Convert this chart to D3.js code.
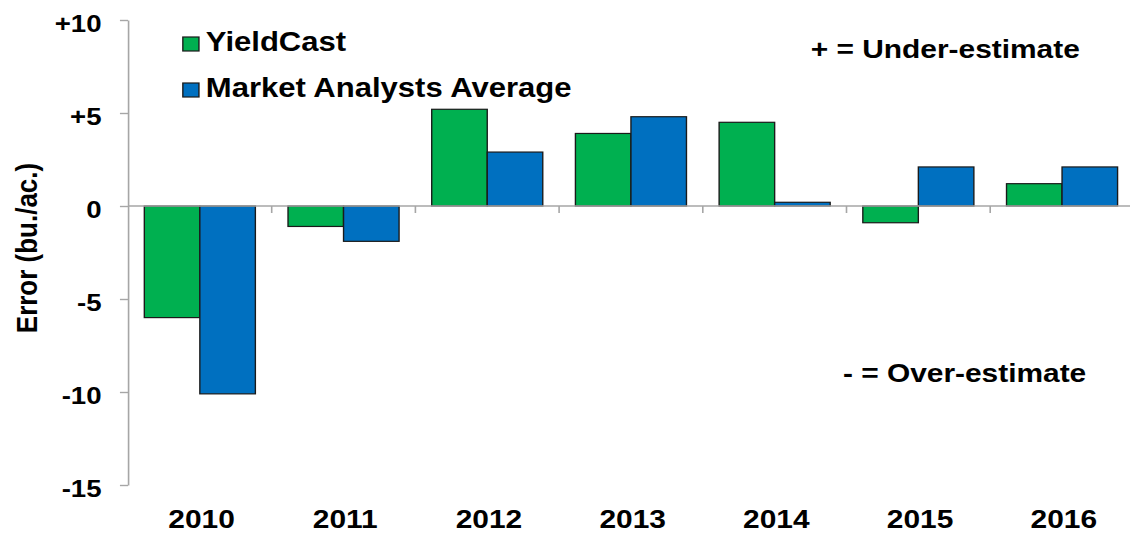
<!DOCTYPE html>
<html>
<head>
<meta charset="utf-8">
<script src="https://cdn.jsdelivr.net/npm/d3@7"></script>
<style>
  html, body { margin: 0; padding: 0; background: #fff; }
  svg { display: block; font-family: "Liberation Sans", Arial, sans-serif; font-weight: bold; }
</style>
</head>
<body>
<script>
// values, bu./ac.
let years = ['2010', '2011', '2012', '2013', '2014', '2015', '2016']
let yieldcast = [-6.0, -1.1, 5.2, 3.9, 4.5, -0.9, 1.2]
let analysts = [-10.1, -1.9, 2.9, 4.8, 0.2, 2.1, 2.1]
let series_names = ['YieldCast', 'Market Analysts Average']
let series_colors = ['#00b050', '#0070c0']
let y_ticks = [10, 5, 0, -5, -10, -15]

let width = 1130, height = 534
// the original picture is stretched sideways, so draw narrow and stretch
let stretch = 1.15
let vw = width / stretch

let margin = {top: 20, left: 111.3, bottom: 49}

let x = d3.scaleBand()
    .domain(years)
    .range([margin.left, 986])
    .padding(0)

let x1 = d3.scaleBand()
    .domain(series_names)
    .range([0, x.bandwidth()])
    .paddingInner(0)
    .paddingOuter(0.294)

let y = d3.scaleLinear()
    .domain([-15, 10])
    .range([height - margin.bottom, margin.top])

let data = years.map((yr, i) => ({
  year: yr,
  values: [
    { key: series_names[0], value: yieldcast[i] },
    { key: series_names[1], value: analysts[i] },
  ]
}))

let color = d3.scaleOrdinal().domain(series_names).range(series_colors)

const svg = d3.select('body').append('svg')
    .attr('width', width)
    .attr('height', height)
    .attr('viewBox', [0, 0, vw, height])
    .attr('preserveAspectRatio', 'none')

// bars
svg.append('g')
  .selectAll('g')
  .data(data)
  .join('g')
    .attr('transform', d => `translate(${x(d.year)},0)`)
  .selectAll('rect')
  .data(d => d.values)
  .join('rect')
    .attr('x', d => x1(d.key))
    .attr('y', d => y(Math.max(0, d.value)))
    .attr('width', x1.bandwidth())
    .attr('height', d => Math.abs(y(d.value) - y(0)))
    .attr('fill', d => color(d.key))
    .attr('stroke', '#1a1a1a')
    .attr('stroke-width', 1.2)

// zero line + ticks between the years
let axis_col = '#a6a6a6'
svg.append('line')
    .attr('x1', margin.left).attr('x2', vw)
    .attr('y1', y(0)).attr('y2', y(0))
    .attr('stroke', axis_col)
    .attr('stroke-width', 1.4)

svg.append('g')
  .selectAll('line')
  .data(years.slice(1))
  .join('line')
    .attr('x1', d => x(d)).attr('x2', d => x(d))
    .attr('y1', y(0)).attr('y2', y(0) + 7)
    .attr('stroke', axis_col)
    .attr('stroke-width', 1.4)

// year labels along the bottom
svg.append('g')
  .selectAll('text')
  .data(years)
  .join('text')
    .attr('x', d => x(d) + x.bandwidth() / 2 + 1.5)
    .attr('y', 528)
    .attr('text-anchor', 'middle')
    .style('font-size', '26px')
    .text(d => d)

// y axis
let yAxis = g => g
    .attr('transform', `translate(${margin.left},0)`)
    .call(d3.axisLeft(y)
      .tickValues(y_ticks)
      .tickFormat(d => d > 0 ? '+' + d : String(d))
      .tickSize(7)
      .tickSizeOuter(0)
      .tickPadding(16))
    .call(g => g.selectAll('.domain, line').attr('stroke', axis_col).attr('stroke-width', 1.4))
    .call(g => g.selectAll('text')
      .attr('fill', '#000')
      .attr('dy', '0.46em')
      .style('font-size', '24px')
      .style('font-family', '"Liberation Sans", Arial, sans-serif')
      .style('font-weight', 'bold'))

svg.append('g').call(yAxis)

svg.append('text')
    .text('Error (bu./ac.)')
    .attr('text-anchor', 'middle')
    .attr('transform', `translate(32.6,248) rotate(-90)`)
    .style('font-size', '26px')

// legend
let legend = svg.append('g')
  .selectAll('g')
  .data(series_names)
  .join('g')
    .attr('transform', (d, i) => `translate(159,${37 + i * 46})`)

legend.append('rect')
    .attr('width', 14)
    .attr('height', 14)
    .attr('fill', d => color(d))
    .attr('stroke', '#1a1a1a')
    .attr('stroke-width', 1.2)

legend.append('text')
    .attr('x', 20)
    .attr('y', 14)
    .style('font-size', '27px')
    .text(d => d)

// notes
svg.append('text')
    .attr('x', 705).attr('y', 58)
    .style('font-size', '26px')
    .text('+ = Under-estimate')

svg.append('text')
    .attr('x', 733).attr('y', 382)
    .style('font-size', '26px')
    .text('- = Over-estimate')
</script>
</body>
</html>
